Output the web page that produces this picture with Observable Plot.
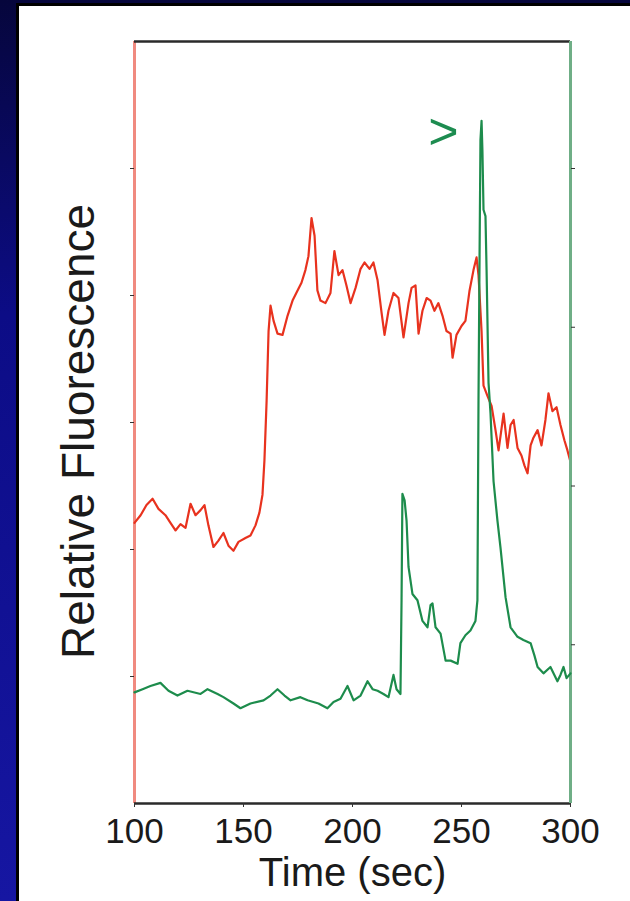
<!DOCTYPE html>
<html><head><meta charset="utf-8">
<script src="https://cdn.jsdelivr.net/npm/d3@7"></script>
<script src="https://cdn.jsdelivr.net/npm/@observablehq/plot@0.6"></script>
<style>
html,body{margin:0;padding:0;width:630px;height:901px;overflow:hidden;}
body{background:linear-gradient(to bottom,#06063c 0%,#0c0c86 35%,#1616a2 100%);position:relative;font-family:"Liberation Sans",Arial,sans-serif;}
#panel{position:absolute;left:16px;top:3px;width:624px;height:910px;background:#fff;border:3px solid #000;box-sizing:border-box;}
.layer{position:absolute;left:0;top:0;}
</style></head><body>
<div id="panel"></div>
<div id="red" class="layer"></div>
<div id="green" class="layer"></div>
<script>
// Red trace (left axis units)
const redTime = [100.0,102.8,105.5,108.3,111.0,114.2,116.5,118.8,121.1,123.4,125.7,128.0,130.3,132.1,133.9,136.2,138.5,140.8,143.1,145.4,147.7,150.9,153.2,155.5,157.3,158.7,159.6,160.6,161.5,162.4,163.8,165.6,167.9,170.2,172.5,174.8,176.6,178.4,179.8,181.2,182.6,183.9,185.3,187.6,189.9,191.7,193.6,195.4,197.2,199.1,201.4,203.7,205.5,207.8,209.6,211.5,213.3,214.7,216.5,218.8,221.1,223.4,225.7,227.1,228.9,230.3,232.1,234.0,235.8,237.6,239.4,241.3,243.1,245.0,245.9,247.7,250.0,251.8,253.7,255.5,256.9,257.8,259.2,260.1,261.9,263.8,265.6,267.0,269.3,271.1,272.5,273.9,275.7,277.5,278.9,280.3,281.7,283.0,284.9,286.7,288.5,289.9,291.7,293.6,295.4,297.2,298.6,300.0];
const redValue = [2.21,2.27,2.35,2.40,2.32,2.27,2.21,2.15,2.20,2.17,2.36,2.27,2.31,2.35,2.19,2.02,2.07,2.13,2.03,1.99,2.06,2.09,2.11,2.19,2.29,2.43,2.70,3.17,3.72,3.92,3.80,3.70,3.69,3.84,3.96,4.04,4.10,4.20,4.31,4.61,4.47,4.04,3.96,3.94,4.02,4.35,4.16,4.20,4.08,3.94,4.06,4.21,4.26,4.21,4.26,4.12,3.87,3.69,3.88,4.02,3.98,3.67,3.94,4.06,4.08,3.70,3.88,3.98,3.96,3.88,3.94,3.84,3.72,3.70,3.51,3.69,3.76,3.80,4.04,4.20,4.30,4.16,3.72,3.29,3.21,3.13,2.94,2.78,3.07,2.80,2.98,3.02,2.80,2.74,2.66,2.60,2.82,2.88,2.94,2.82,3.02,3.23,3.09,3.12,2.98,2.86,2.78,2.69];

// Green trace (right axis units)
const greenTime = [100.0,103.7,107.3,111.9,115.6,119.7,124.3,130.3,133.5,138.1,140.8,145.4,148.6,153.2,159.2,162.4,165.6,168.8,171.6,176.1,179.4,184.4,188.5,191.3,194.5,197.7,200.5,203.7,206.9,209.2,211.5,214.2,216.5,218.8,220.2,222.0,222.5,222.9,223.9,224.8,225.7,227.5,229.8,232.1,234.4,235.8,236.7,238.1,240.4,242.7,245.0,248.2,249.5,251.8,254.1,256.4,257.3,257.8,258.3,258.7,259.2,259.6,260.1,261.0,261.5,262.4,263.3,264.7,266.5,267.9,270.2,272.5,275.7,278.4,281.7,283.5,284.9,287.6,290.8,294.0,295.4,296.8,298.2,300.0];
const greenValue = [0.70,0.72,0.74,0.76,0.71,0.68,0.71,0.69,0.72,0.69,0.67,0.63,0.60,0.63,0.65,0.68,0.72,0.68,0.65,0.67,0.65,0.63,0.60,0.64,0.66,0.74,0.65,0.68,0.77,0.72,0.71,0.69,0.67,0.81,0.72,0.69,1.28,1.95,1.91,1.78,1.49,1.32,1.28,1.15,1.11,1.25,1.26,1.11,1.07,0.90,0.90,0.88,1.01,1.06,1.09,1.15,1.28,2.54,3.48,4.18,4.30,4.11,3.74,3.70,3.36,2.65,2.46,2.03,1.78,1.61,1.30,1.11,1.05,1.03,1.01,0.93,0.86,0.82,0.86,0.77,0.81,0.86,0.79,0.82];

const timeTicks = [100,150,200,250,300];
const leftTicks = [1,2,3,4,5];
const rightTicks = [1,2,3,4];
const xLabel = "Time (sec)";
const yLabel = "Relative Fluorescence";
const marker = [{t:241.7, v:4.23, s:">"}];

const W = 630, H = 901;
const frame = {marginLeft:134, marginRight:60, marginTop:41, marginBottom:98};
const font = "'Liberation Sans', Arial, Helvetica, sans-serif";

const red = redTime.map((t,i)=>({t, v:redValue[i]}));
const green = greenTime.map((t,i)=>({t, v:greenValue[i]}));

const redPlot = Plot.plot({
  width:W, height:H, ...frame,
  style:{background:"transparent", fontFamily:font, color:"#1a1a1a", overflow:"visible"},
  x:{domain:[100,300]},
  y:{domain:[0,6]},
  marks:[
    Plot.ruleX([100], {stroke:"#f08a80", strokeWidth:3}),
    Plot.ruleY([6], {stroke:"#2a2a2a", strokeWidth:2.5}),
    Plot.ruleY([0], {stroke:"#2a2a2a", strokeWidth:2.5}),
    Plot.axisX(timeTicks, {tickSize:4, tickPadding:11, fontSize:35, label:null, stroke:"#333", fill:"#1a1a1a"}),
    Plot.axisY(leftTicks, {anchor:"left", tickSize:4, tickFormat:()=>"", label:null, stroke:"#333"}),
    Plot.line(red, {x:"t", y:"v", stroke:"#e8321e", strokeWidth:2.2}),
    Plot.text([xLabel], {text:d=>d, frameAnchor:"bottom", dy:70, fontSize:40, lineAnchor:"middle", fill:"#1a1a1a"}),
    Plot.text([yLabel], {text:d=>d, frameAnchor:"left", textAnchor:"middle", rotate:-90, dx:-55, dy:9, fontSize:46, lineAnchor:"middle", fill:"#1a1a1a"})
  ]
});
document.getElementById("red").append(redPlot);

const greenPlot = Plot.plot({
  width:W, height:H, ...frame,
  style:{background:"transparent", fontFamily:font, color:"#1a1a1a", overflow:"visible"},
  x:{domain:[100,300], axis:null},
  y:{domain:[0,4.8]},
  marks:[
    Plot.ruleX([300], {stroke:"#6fae86", strokeWidth:3}),
    Plot.axisY(rightTicks, {anchor:"right", tickSize:4, tickFormat:()=>"", label:null, stroke:"#333"}),
    Plot.line(green, {x:"t", y:"v", stroke:"#1d8c4c", strokeWidth:2.2}),
    Plot.text(marker, {x:"t", y:"v", text:"s", fontSize:52, fill:"#1d8c50"})
  ]
});
document.getElementById("green").append(greenPlot);
</script>
</body></html>
